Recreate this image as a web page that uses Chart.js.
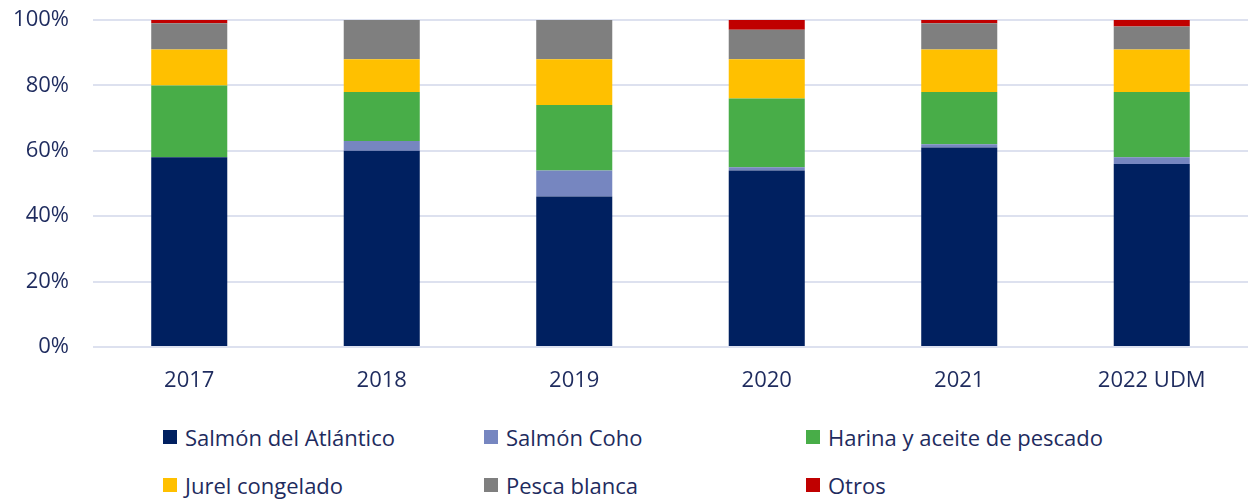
<!DOCTYPE html>
<html>
<head>
<meta charset="utf-8">
<script src="https://cdn.jsdelivr.net/npm/chart.js@4"></script>
<style>
    body { margin: 0; background: #fff; font-family: 'Open Sans', 'Noto Sans', sans-serif; }
    #wrap { position: relative; width: 1248px; height: 410px; }
    #legend { position: relative; width: 1248px; height: 90px; }
    .item { position: absolute; display: flex; align-items: center; font-size: 22px; color: #1e2b5e; white-space: nowrap; }
    .box { width: 14px; height: 14px; margin-right: 8px; }
</style>
</head>
<body>
<div id="wrap"><canvas id="myChart"></canvas></div>
<div id="legend"></div>
<script>
const years = ['2017', '2018', '2019', '2020', '2021', '2022 UDM'];
const salmonAtlantico = [58, 60, 46, 54, 61, 56];
const salmonCoho = [0, 3, 8, 1, 1, 2];
const harina = [22, 15, 20, 21, 16, 20];
const jurel = [11, 10, 14, 12, 13, 13];
const pescaBlanca = [8, 12, 12, 9, 8, 7];
const otros = [1, 0, 0, 3, 1, 2];

const seriesNames = ['Salmón del Atlántico', 'Salmón Coho', 'Harina y aceite de pescado', 'Jurel congelado', 'Pesca blanca', 'Otros'];
const seriesData = [salmonAtlantico, salmonCoho, harina, jurel, pescaBlanca, otros];
const colors = ['#002060', '#7686c0', '#48ad48', '#ffc000', '#7f7f7f', '#c00000'];

const textColor = '#1e2b5e';
const font = { family: "'Open Sans', 'Noto Sans', sans-serif", size: 22 };

const ctx = document.getElementById('myChart');

new Chart(ctx, {
    type: 'bar',
    data: {
        labels: years,
        datasets: seriesNames.map((name, i) => ({
            label: name,
            data: seriesData[i],
            backgroundColor: colors[i],
            borderWidth: 0,
            barPercentage: 0.395,
            categoryPercentage: 1
        }))
    },
    options: {
        responsive: true,
        maintainAspectRatio: false,
        animation: false,
        layout: { padding: { top: 20, right: 0, bottom: 13, left: 0 } },
        plugins: {
            legend: { display: false },
            tooltip: { enabled: false }
        },
        scales: {
            x: {
                stacked: true,
                afterFit: (scale) => { scale.height = 50; },
                grid: { display: false, drawTicks: false },
                border: { display: false },
                ticks: { color: textColor, font: font, padding: 21, maxRotation: 0 }
            },
            y: {
                stacked: true,
                min: 0,
                max: 100,
                afterFit: (scale) => {
                    scale.width = 93;
                    scale.paddingTop = 0;
                    scale.paddingBottom = 0;
                },
                grid: { color: '#dde1ef', lineWidth: 2, drawTicks: false },
                border: { display: false },
                ticks: {
                    stepSize: 20,
                    color: textColor,
                    font: font,
                    padding: 24,
                    callback: (v) => v + '%'
                }
            }
        }
    }
});

// legend laid out in two rows of three like the original
const legendEl = document.getElementById('legend');
const colX = [163, 484, 806];
const rowY = [27, 75];
seriesNames.forEach((name, i) => {
    const item = document.createElement('div');
    item.className = 'item';
    item.style.left = colX[i % 3] + 'px';
    item.style.top = (rowY[Math.floor(i / 3)] - 15) + 'px';
    item.innerHTML = '<span class="box" style="background:' + colors[i] + '"></span><span>' + name + '</span>';
    legendEl.appendChild(item);
});
</script>
</body>
</html>
